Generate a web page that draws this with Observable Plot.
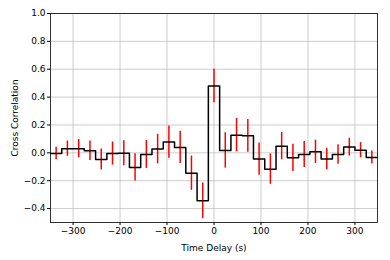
<!DOCTYPE html>
<html><head><meta charset="utf-8">
<script src="https://cdn.jsdelivr.net/npm/d3@7"></script>
<script src="https://cdn.jsdelivr.net/npm/@observablehq/plot@0.6"></script>
<style>
html,body{margin:0;padding:0;background:#fff;}
svg{font-family:"DejaVu Sans",sans-serif;}
</style></head>
<body><div id="chart"></div>
<script>
const lags = [-336,-312,-288,-264,-240,-216,-192,-168,-144,-120,-96,-72,-48,-24,0,24,48,72,96,120,144,168,192,216,240,264,288,312,336];
const corr = [-0.005,0.03,0.03,0.015,-0.048,-0.005,-0.003,-0.105,-0.012,0.027,0.077,0.039,-0.146,-0.344,0.48,0.017,0.127,0.122,-0.045,-0.117,0.048,-0.036,-0.012,0.007,-0.045,-0.012,0.041,0.019,-0.033];
const errs = [0.045,0.055,0.065,0.07,0.075,0.083,0.09,0.098,0.1,0.106,0.115,0.116,0.123,0.128,0.12,0.127,0.12,0.117,0.116,0.109,0.098,0.098,0.093,0.084,0.077,0.07,0.064,0.054,0.047];
const binWidth = 24;
const xTicks = [-300,-200,-100,0,100,200,300];
const yTicks = [-0.4,-0.2,0,0.2,0.4,0.6,0.8,1.0];

const bins = lags.map((x,i)=>({x, y:corr[i], e:errs[i]}));
const steps = bins.flatMap(d=>[{x:d.x-binWidth/2,y:d.y},{x:d.x+binWidth/2,y:d.y}]);

const chart = Plot.plot({
  width:390, height:260,
  marginLeft:50, marginRight:13, marginTop:13, marginBottom:38,
  style:{fontSize:"9px", fontFamily:"DejaVu Sans, sans-serif", color:"#000"},
  x:{domain:[-348,348]},
  y:{domain:[-0.5,1.0]},
  marks:[
    Plot.gridX(xTicks,{stroke:"#b0b0b0", strokeOpacity:0.8, strokeWidth:0.8}),
    Plot.gridY(yTicks,{stroke:"#b0b0b0", strokeOpacity:0.8, strokeWidth:0.8}),
    Plot.ruleX(bins,{x:"x", y1:d=>d.y-d.e, y2:d=>d.y+d.e, stroke:"red", strokeWidth:1.5}),
    Plot.line(steps,{x:"x", y:"y", stroke:"black", strokeWidth:1.5}),
    Plot.axisX({ticks:xTicks, tickFormat:d3.format("d"), tickSize:3, tickPadding:2, label:"Time Delay (s)", labelAnchor:"center", labelArrow:"none", labelOffset:28, fontSize:9}),
    Plot.axisY({ticks:yTicks, tickFormat:d3.format(".1f"), tickSize:3, tickPadding:2, label:"Cross Correlation", labelAnchor:"center", labelArrow:"none", labelOffset:39, fontSize:9}),
    Plot.frame({stroke:"black", strokeWidth:0.8})
  ]
});
document.getElementById("chart").appendChild(chart);
</script></body></html>
